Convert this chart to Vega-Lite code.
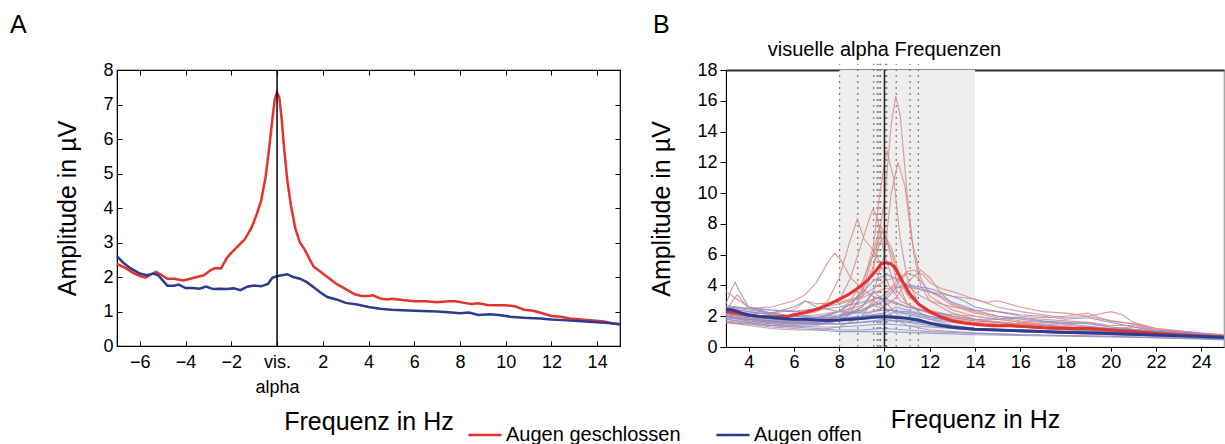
{
  "$schema": "https://vega.github.io/schema/vega-lite/v6.json",
  "padding": {"left": 9, "top": 12, "right": 0, "bottom": 0},
  "spacing": 23,
  "config": {
    "font": "Liberation Sans",
    "axis": {"grid": false, "labelColor": "#000", "titleColor": "#000", "domainColor": "#000", "tickColor": "#000", "labelFontSize": 18, "titleFontSize": 25, "titleFontWeight": "normal", "labelFont": "Liberation Sans", "titleFont": "Liberation Sans", "labelFlush": false, "labelOverlap": false},
    "title": {"fontWeight": "normal", "fontSize": 25, "anchor": "start", "frame": "group", "baseline": "alphabetic", "color": "#000"}
  },
  "datasets": {
    "meanA": [
      {"f": -7.0, "a": 2.38, "cond": "Augen geschlossen"}, {"f": -6.6, "a": 2.25, "cond": "Augen geschlossen"}, {"f": -6.3, "a": 2.12, "cond": "Augen geschlossen"}, {"f": -6.0, "a": 2.03, "cond": "Augen geschlossen"}, {"f": -5.75, "a": 1.98, "cond": "Augen geschlossen"}, {"f": -5.5, "a": 2.08, "cond": "Augen geschlossen"}, {"f": -5.3, "a": 2.15, "cond": "Augen geschlossen"}, {"f": -5.1, "a": 2.08, "cond": "Augen geschlossen"}, {"f": -4.8, "a": 1.95, "cond": "Augen geschlossen"}, {"f": -4.5, "a": 1.95, "cond": "Augen geschlossen"}, {"f": -4.1, "a": 1.9, "cond": "Augen geschlossen"}, {"f": -3.8, "a": 1.95, "cond": "Augen geschlossen"}, {"f": -3.5, "a": 2.0, "cond": "Augen geschlossen"}, {"f": -3.2, "a": 2.05, "cond": "Augen geschlossen"}, {"f": -2.9, "a": 2.2, "cond": "Augen geschlossen"}, {"f": -2.7, "a": 2.26, "cond": "Augen geschlossen"}, {"f": -2.45, "a": 2.25, "cond": "Augen geschlossen"}, {"f": -2.2, "a": 2.55, "cond": "Augen geschlossen"}, {"f": -2.0, "a": 2.7, "cond": "Augen geschlossen"}, {"f": -1.7, "a": 2.9, "cond": "Augen geschlossen"}, {"f": -1.4, "a": 3.1, "cond": "Augen geschlossen"}, {"f": -1.1, "a": 3.45, "cond": "Augen geschlossen"}, {"f": -0.9, "a": 3.8, "cond": "Augen geschlossen"}, {"f": -0.7, "a": 4.2, "cond": "Augen geschlossen"}, {"f": -0.5, "a": 4.9, "cond": "Augen geschlossen"}, {"f": -0.35, "a": 5.7, "cond": "Augen geschlossen"}, {"f": -0.2, "a": 6.6, "cond": "Augen geschlossen"}, {"f": -0.1, "a": 7.15, "cond": "Augen geschlossen"}, {"f": 0.0, "a": 7.35, "cond": "Augen geschlossen"}, {"f": 0.1, "a": 7.2, "cond": "Augen geschlossen"}, {"f": 0.2, "a": 6.6, "cond": "Augen geschlossen"}, {"f": 0.3, "a": 5.8, "cond": "Augen geschlossen"}, {"f": 0.45, "a": 4.8, "cond": "Augen geschlossen"}, {"f": 0.6, "a": 4.1, "cond": "Augen geschlossen"}, {"f": 0.8, "a": 3.4, "cond": "Augen geschlossen"}, {"f": 1.0, "a": 3.0, "cond": "Augen geschlossen"}, {"f": 1.2, "a": 2.8, "cond": "Augen geschlossen"}, {"f": 1.4, "a": 2.55, "cond": "Augen geschlossen"}, {"f": 1.6, "a": 2.3, "cond": "Augen geschlossen"}, {"f": 1.8, "a": 2.2, "cond": "Augen geschlossen"}, {"f": 2.0, "a": 2.1, "cond": "Augen geschlossen"}, {"f": 2.3, "a": 1.95, "cond": "Augen geschlossen"}, {"f": 2.6, "a": 1.8, "cond": "Augen geschlossen"}, {"f": 3.0, "a": 1.65, "cond": "Augen geschlossen"}, {"f": 3.4, "a": 1.5, "cond": "Augen geschlossen"}, {"f": 3.7, "a": 1.45, "cond": "Augen geschlossen"}, {"f": 4.0, "a": 1.45, "cond": "Augen geschlossen"}, {"f": 4.2, "a": 1.47, "cond": "Augen geschlossen"}, {"f": 4.5, "a": 1.38, "cond": "Augen geschlossen"}, {"f": 4.8, "a": 1.35, "cond": "Augen geschlossen"}, {"f": 5.0, "a": 1.37, "cond": "Augen geschlossen"}, {"f": 5.5, "a": 1.33, "cond": "Augen geschlossen"}, {"f": 6.0, "a": 1.3, "cond": "Augen geschlossen"}, {"f": 6.5, "a": 1.3, "cond": "Augen geschlossen"}, {"f": 7.0, "a": 1.27, "cond": "Augen geschlossen"}, {"f": 7.5, "a": 1.3, "cond": "Augen geschlossen"}, {"f": 7.8, "a": 1.3, "cond": "Augen geschlossen"}, {"f": 8.2, "a": 1.25, "cond": "Augen geschlossen"}, {"f": 8.5, "a": 1.22, "cond": "Augen geschlossen"}, {"f": 8.8, "a": 1.24, "cond": "Augen geschlossen"}, {"f": 9.2, "a": 1.19, "cond": "Augen geschlossen"}, {"f": 9.6, "a": 1.18, "cond": "Augen geschlossen"}, {"f": 10.0, "a": 1.18, "cond": "Augen geschlossen"}, {"f": 10.4, "a": 1.15, "cond": "Augen geschlossen"}, {"f": 10.8, "a": 1.05, "cond": "Augen geschlossen"}, {"f": 11.2, "a": 1.02, "cond": "Augen geschlossen"}, {"f": 11.6, "a": 0.95, "cond": "Augen geschlossen"}, {"f": 12.0, "a": 0.87, "cond": "Augen geschlossen"}, {"f": 12.4, "a": 0.85, "cond": "Augen geschlossen"}, {"f": 12.8, "a": 0.8, "cond": "Augen geschlossen"}, {"f": 13.3, "a": 0.77, "cond": "Augen geschlossen"}, {"f": 13.8, "a": 0.74, "cond": "Augen geschlossen"}, {"f": 14.3, "a": 0.71, "cond": "Augen geschlossen"}, {"f": 14.7, "a": 0.65, "cond": "Augen geschlossen"}, {"f": 15.0, "a": 0.63, "cond": "Augen geschlossen"},
      {"f": -7.0, "a": 2.6, "cond": "Augen offen"}, {"f": -6.7, "a": 2.4, "cond": "Augen offen"}, {"f": -6.4, "a": 2.25, "cond": "Augen offen"}, {"f": -6.0, "a": 2.1, "cond": "Augen offen"}, {"f": -5.7, "a": 2.05, "cond": "Augen offen"}, {"f": -5.4, "a": 2.1, "cond": "Augen offen"}, {"f": -5.2, "a": 2.05, "cond": "Augen offen"}, {"f": -5.0, "a": 1.9, "cond": "Augen offen"}, {"f": -4.8, "a": 1.75, "cond": "Augen offen"}, {"f": -4.5, "a": 1.75, "cond": "Augen offen"}, {"f": -4.3, "a": 1.78, "cond": "Augen offen"}, {"f": -4.0, "a": 1.68, "cond": "Augen offen"}, {"f": -3.7, "a": 1.68, "cond": "Augen offen"}, {"f": -3.4, "a": 1.66, "cond": "Augen offen"}, {"f": -3.1, "a": 1.72, "cond": "Augen offen"}, {"f": -2.8, "a": 1.65, "cond": "Augen offen"}, {"f": -2.5, "a": 1.66, "cond": "Augen offen"}, {"f": -2.2, "a": 1.65, "cond": "Augen offen"}, {"f": -1.9, "a": 1.67, "cond": "Augen offen"}, {"f": -1.6, "a": 1.62, "cond": "Augen offen"}, {"f": -1.3, "a": 1.72, "cond": "Augen offen"}, {"f": -1.0, "a": 1.75, "cond": "Augen offen"}, {"f": -0.7, "a": 1.73, "cond": "Augen offen"}, {"f": -0.4, "a": 1.8, "cond": "Augen offen"}, {"f": -0.2, "a": 1.98, "cond": "Augen offen"}, {"f": 0.0, "a": 2.02, "cond": "Augen offen"}, {"f": 0.2, "a": 2.05, "cond": "Augen offen"}, {"f": 0.45, "a": 2.08, "cond": "Augen offen"}, {"f": 0.7, "a": 2.0, "cond": "Augen offen"}, {"f": 1.0, "a": 1.95, "cond": "Augen offen"}, {"f": 1.3, "a": 1.85, "cond": "Augen offen"}, {"f": 1.6, "a": 1.7, "cond": "Augen offen"}, {"f": 1.9, "a": 1.55, "cond": "Augen offen"}, {"f": 2.2, "a": 1.42, "cond": "Augen offen"}, {"f": 2.6, "a": 1.35, "cond": "Augen offen"}, {"f": 3.0, "a": 1.25, "cond": "Augen offen"}, {"f": 3.5, "a": 1.2, "cond": "Augen offen"}, {"f": 4.0, "a": 1.13, "cond": "Augen offen"}, {"f": 4.5, "a": 1.08, "cond": "Augen offen"}, {"f": 5.0, "a": 1.05, "cond": "Augen offen"}, {"f": 6.0, "a": 1.02, "cond": "Augen offen"}, {"f": 7.0, "a": 1.0, "cond": "Augen offen"}, {"f": 7.5, "a": 0.98, "cond": "Augen offen"}, {"f": 8.0, "a": 0.95, "cond": "Augen offen"}, {"f": 8.4, "a": 0.97, "cond": "Augen offen"}, {"f": 8.8, "a": 0.9, "cond": "Augen offen"}, {"f": 9.3, "a": 0.92, "cond": "Augen offen"}, {"f": 9.7, "a": 0.9, "cond": "Augen offen"}, {"f": 10.2, "a": 0.85, "cond": "Augen offen"}, {"f": 10.8, "a": 0.82, "cond": "Augen offen"}, {"f": 11.5, "a": 0.8, "cond": "Augen offen"}, {"f": 12.0, "a": 0.77, "cond": "Augen offen"}, {"f": 12.5, "a": 0.75, "cond": "Augen offen"}, {"f": 13.0, "a": 0.73, "cond": "Augen offen"}, {"f": 13.5, "a": 0.71, "cond": "Augen offen"}, {"f": 14.0, "a": 0.69, "cond": "Augen offen"}, {"f": 14.5, "a": 0.67, "cond": "Augen offen"}, {"f": 15.0, "a": 0.63, "cond": "Augen offen"}
    ],
    "meanB": [
      {"f": 3.0, "a": 2.3, "cond": "Augen geschlossen"}, {"f": 3.5, "a": 2.2, "cond": "Augen geschlossen"}, {"f": 3.9, "a": 2.08, "cond": "Augen geschlossen"}, {"f": 4.4, "a": 2.0, "cond": "Augen geschlossen"}, {"f": 4.8, "a": 1.97, "cond": "Augen geschlossen"}, {"f": 5.3, "a": 1.97, "cond": "Augen geschlossen"}, {"f": 5.7, "a": 1.98, "cond": "Augen geschlossen"}, {"f": 6.0, "a": 2.1, "cond": "Augen geschlossen"}, {"f": 6.5, "a": 2.25, "cond": "Augen geschlossen"}, {"f": 7.0, "a": 2.45, "cond": "Augen geschlossen"}, {"f": 7.5, "a": 2.75, "cond": "Augen geschlossen"}, {"f": 8.0, "a": 3.1, "cond": "Augen geschlossen"}, {"f": 8.4, "a": 3.4, "cond": "Augen geschlossen"}, {"f": 8.9, "a": 3.9, "cond": "Augen geschlossen"}, {"f": 9.3, "a": 4.4, "cond": "Augen geschlossen"}, {"f": 9.65, "a": 5.0, "cond": "Augen geschlossen"}, {"f": 9.85, "a": 5.4, "cond": "Augen geschlossen"}, {"f": 10.05, "a": 5.48, "cond": "Augen geschlossen"}, {"f": 10.25, "a": 5.43, "cond": "Augen geschlossen"}, {"f": 10.45, "a": 5.2, "cond": "Augen geschlossen"}, {"f": 10.75, "a": 4.4, "cond": "Augen geschlossen"}, {"f": 11.1, "a": 3.5, "cond": "Augen geschlossen"}, {"f": 11.5, "a": 2.8, "cond": "Augen geschlossen"}, {"f": 12.0, "a": 2.3, "cond": "Augen geschlossen"}, {"f": 12.5, "a": 1.95, "cond": "Augen geschlossen"}, {"f": 13.0, "a": 1.7, "cond": "Augen geschlossen"}, {"f": 13.6, "a": 1.55, "cond": "Augen geschlossen"}, {"f": 14.2, "a": 1.45, "cond": "Augen geschlossen"}, {"f": 14.8, "a": 1.38, "cond": "Augen geschlossen"}, {"f": 15.5, "a": 1.4, "cond": "Augen geschlossen"}, {"f": 16.0, "a": 1.35, "cond": "Augen geschlossen"}, {"f": 17.0, "a": 1.25, "cond": "Augen geschlossen"}, {"f": 18.0, "a": 1.2, "cond": "Augen geschlossen"}, {"f": 19.0, "a": 1.2, "cond": "Augen geschlossen"}, {"f": 20.0, "a": 1.1, "cond": "Augen geschlossen"}, {"f": 21.0, "a": 1.0, "cond": "Augen geschlossen"}, {"f": 22.0, "a": 0.9, "cond": "Augen geschlossen"}, {"f": 23.0, "a": 0.8, "cond": "Augen geschlossen"}, {"f": 24.0, "a": 0.72, "cond": "Augen geschlossen"}, {"f": 25.0, "a": 0.65, "cond": "Augen geschlossen"},
      {"f": 3.0, "a": 2.45, "cond": "Augen offen"}, {"f": 3.3, "a": 2.4, "cond": "Augen offen"}, {"f": 3.7, "a": 2.2, "cond": "Augen offen"}, {"f": 4.0, "a": 2.08, "cond": "Augen offen"}, {"f": 4.5, "a": 1.98, "cond": "Augen offen"}, {"f": 5.0, "a": 1.92, "cond": "Augen offen"}, {"f": 5.5, "a": 1.85, "cond": "Augen offen"}, {"f": 6.0, "a": 1.8, "cond": "Augen offen"}, {"f": 6.5, "a": 1.8, "cond": "Augen offen"}, {"f": 7.0, "a": 1.75, "cond": "Augen offen"}, {"f": 7.5, "a": 1.72, "cond": "Augen offen"}, {"f": 8.0, "a": 1.75, "cond": "Augen offen"}, {"f": 8.5, "a": 1.8, "cond": "Augen offen"}, {"f": 9.0, "a": 1.85, "cond": "Augen offen"}, {"f": 9.5, "a": 1.93, "cond": "Augen offen"}, {"f": 10.0, "a": 1.97, "cond": "Augen offen"}, {"f": 10.5, "a": 1.92, "cond": "Augen offen"}, {"f": 11.0, "a": 1.87, "cond": "Augen offen"}, {"f": 11.5, "a": 1.75, "cond": "Augen offen"}, {"f": 12.0, "a": 1.55, "cond": "Augen offen"}, {"f": 12.5, "a": 1.4, "cond": "Augen offen"}, {"f": 13.0, "a": 1.28, "cond": "Augen offen"}, {"f": 14.0, "a": 1.15, "cond": "Augen offen"}, {"f": 15.0, "a": 1.1, "cond": "Augen offen"}, {"f": 16.0, "a": 1.05, "cond": "Augen offen"}, {"f": 17.0, "a": 1.0, "cond": "Augen offen"}, {"f": 18.0, "a": 0.95, "cond": "Augen offen"}, {"f": 19.0, "a": 0.92, "cond": "Augen offen"}, {"f": 20.0, "a": 0.87, "cond": "Augen offen"}, {"f": 21.0, "a": 0.83, "cond": "Augen offen"}, {"f": 22.0, "a": 0.78, "cond": "Augen offen"}, {"f": 23.0, "a": 0.73, "cond": "Augen offen"}, {"f": 24.0, "a": 0.68, "cond": "Augen offen"}, {"f": 25.0, "a": 0.62, "cond": "Augen offen"}
    ],
    "indiv": [
      {"id": "r1", "c": "g", "f": 3, "a": 2.2}, {"id": "r1", "c": "g", "f": 4, "a": 1.9}, {"id": "r1", "c": "g", "f": 5, "a": 1.7}, {"id": "r1", "c": "g", "f": 6, "a": 1.6}, {"id": "r1", "c": "g", "f": 7, "a": 1.7}, {"id": "r1", "c": "g", "f": 8, "a": 2.0}, {"id": "r1", "c": "g", "f": 8.5, "a": 2.4}, {"id": "r1", "c": "g", "f": 9, "a": 3.2}, {"id": "r1", "c": "g", "f": 9.5, "a": 5.0}, {"id": "r1", "c": "g", "f": 10, "a": 9.5}, {"id": "r1", "c": "g", "f": 10.3, "a": 14.5}, {"id": "r1", "c": "g", "f": 10.5, "a": 16.3}, {"id": "r1", "c": "g", "f": 10.7, "a": 15.0}, {"id": "r1", "c": "g", "f": 11, "a": 10.0}, {"id": "r1", "c": "g", "f": 11.3, "a": 6.0}, {"id": "r1", "c": "g", "f": 11.6, "a": 4.0}, {"id": "r1", "c": "g", "f": 12, "a": 3.0}, {"id": "r1", "c": "g", "f": 13, "a": 2.2}, {"id": "r1", "c": "g", "f": 14, "a": 1.8}, {"id": "r1", "c": "g", "f": 15, "a": 1.6}, {"id": "r1", "c": "g", "f": 16, "a": 1.4}, {"id": "r1", "c": "g", "f": 18, "a": 1.2}, {"id": "r1", "c": "g", "f": 20, "a": 1.0}, {"id": "r1", "c": "g", "f": 22, "a": 0.9}, {"id": "r1", "c": "g", "f": 24, "a": 0.7}, {"id": "r1", "c": "g", "f": 25, "a": 0.6},
      {"id": "r2", "c": "g", "f": 3, "a": 1.9}, {"id": "r2", "c": "g", "f": 4, "a": 1.7}, {"id": "r2", "c": "g", "f": 5, "a": 1.5}, {"id": "r2", "c": "g", "f": 6, "a": 1.5}, {"id": "r2", "c": "g", "f": 7, "a": 1.6}, {"id": "r2", "c": "g", "f": 8, "a": 2.0}, {"id": "r2", "c": "g", "f": 8.5, "a": 2.6}, {"id": "r2", "c": "g", "f": 9, "a": 3.8}, {"id": "r2", "c": "g", "f": 9.5, "a": 6.5}, {"id": "r2", "c": "g", "f": 9.8, "a": 10.0}, {"id": "r2", "c": "g", "f": 10.1, "a": 12.8}, {"id": "r2", "c": "g", "f": 10.4, "a": 11.0}, {"id": "r2", "c": "g", "f": 10.7, "a": 7.0}, {"id": "r2", "c": "g", "f": 11, "a": 4.5}, {"id": "r2", "c": "g", "f": 11.5, "a": 2.8}, {"id": "r2", "c": "g", "f": 12, "a": 2.2}, {"id": "r2", "c": "g", "f": 13, "a": 1.7}, {"id": "r2", "c": "g", "f": 14, "a": 1.5}, {"id": "r2", "c": "g", "f": 16, "a": 1.3}, {"id": "r2", "c": "g", "f": 18, "a": 1.1}, {"id": "r2", "c": "g", "f": 20, "a": 1.0}, {"id": "r2", "c": "g", "f": 22, "a": 0.9}, {"id": "r2", "c": "g", "f": 24, "a": 0.75}, {"id": "r2", "c": "g", "f": 25, "a": 0.7},
      {"id": "r3", "c": "g", "f": 3, "a": 2.0}, {"id": "r3", "c": "g", "f": 4, "a": 1.8}, {"id": "r3", "c": "g", "f": 5, "a": 1.6}, {"id": "r3", "c": "g", "f": 6, "a": 1.5}, {"id": "r3", "c": "g", "f": 7, "a": 1.6}, {"id": "r3", "c": "g", "f": 8, "a": 1.9}, {"id": "r3", "c": "g", "f": 9, "a": 2.6}, {"id": "r3", "c": "g", "f": 9.5, "a": 3.5}, {"id": "r3", "c": "g", "f": 10, "a": 6.0}, {"id": "r3", "c": "g", "f": 10.3, "a": 10.0}, {"id": "r3", "c": "g", "f": 10.6, "a": 12.0}, {"id": "r3", "c": "g", "f": 10.9, "a": 10.5}, {"id": "r3", "c": "g", "f": 11.2, "a": 7.0}, {"id": "r3", "c": "g", "f": 11.6, "a": 4.5}, {"id": "r3", "c": "g", "f": 12, "a": 3.3}, {"id": "r3", "c": "g", "f": 13, "a": 2.4}, {"id": "r3", "c": "g", "f": 14, "a": 2.0}, {"id": "r3", "c": "g", "f": 15, "a": 1.8}, {"id": "r3", "c": "g", "f": 16, "a": 1.6}, {"id": "r3", "c": "g", "f": 18, "a": 1.3}, {"id": "r3", "c": "g", "f": 20, "a": 1.1}, {"id": "r3", "c": "g", "f": 22, "a": 0.9}, {"id": "r3", "c": "g", "f": 24, "a": 0.8}, {"id": "r3", "c": "g", "f": 25, "a": 0.7},
      {"id": "r4", "c": "g", "f": 3, "a": 2.5}, {"id": "r4", "c": "g", "f": 4, "a": 2.3}, {"id": "r4", "c": "g", "f": 5, "a": 2.1}, {"id": "r4", "c": "g", "f": 6, "a": 2.0}, {"id": "r4", "c": "g", "f": 7, "a": 2.3}, {"id": "r4", "c": "g", "f": 8, "a": 3.0}, {"id": "r4", "c": "g", "f": 8.5, "a": 4.5}, {"id": "r4", "c": "g", "f": 9, "a": 6.8}, {"id": "r4", "c": "g", "f": 9.3, "a": 8.2}, {"id": "r4", "c": "g", "f": 9.5, "a": 9.0}, {"id": "r4", "c": "g", "f": 9.7, "a": 8.3}, {"id": "r4", "c": "g", "f": 10, "a": 6.0}, {"id": "r4", "c": "g", "f": 10.5, "a": 3.8}, {"id": "r4", "c": "g", "f": 11, "a": 2.8}, {"id": "r4", "c": "g", "f": 12, "a": 2.2}, {"id": "r4", "c": "g", "f": 13, "a": 1.8}, {"id": "r4", "c": "g", "f": 14, "a": 1.6}, {"id": "r4", "c": "g", "f": 16, "a": 1.4}, {"id": "r4", "c": "g", "f": 18, "a": 1.2}, {"id": "r4", "c": "g", "f": 20, "a": 1.0}, {"id": "r4", "c": "g", "f": 22, "a": 0.85}, {"id": "r4", "c": "g", "f": 24, "a": 0.7}, {"id": "r4", "c": "g", "f": 25, "a": 0.65},
      {"id": "r5", "c": "g", "f": 3, "a": 2.2}, {"id": "r5", "c": "g", "f": 4, "a": 2.0}, {"id": "r5", "c": "g", "f": 5, "a": 1.9}, {"id": "r5", "c": "g", "f": 6, "a": 2.0}, {"id": "r5", "c": "g", "f": 7, "a": 2.4}, {"id": "r5", "c": "g", "f": 7.5, "a": 3.0}, {"id": "r5", "c": "g", "f": 8, "a": 4.5}, {"id": "r5", "c": "g", "f": 8.5, "a": 7.0}, {"id": "r5", "c": "g", "f": 8.8, "a": 8.3}, {"id": "r5", "c": "g", "f": 9.1, "a": 7.0}, {"id": "r5", "c": "g", "f": 9.4, "a": 6.5}, {"id": "r5", "c": "g", "f": 9.8, "a": 5.5}, {"id": "r5", "c": "g", "f": 10.2, "a": 4.0}, {"id": "r5", "c": "g", "f": 10.7, "a": 3.0}, {"id": "r5", "c": "g", "f": 11.5, "a": 2.4}, {"id": "r5", "c": "g", "f": 12.5, "a": 2.0}, {"id": "r5", "c": "g", "f": 14, "a": 1.7}, {"id": "r5", "c": "g", "f": 16, "a": 1.5}, {"id": "r5", "c": "g", "f": 18, "a": 1.3}, {"id": "r5", "c": "g", "f": 20, "a": 1.1}, {"id": "r5", "c": "g", "f": 22, "a": 0.9}, {"id": "r5", "c": "g", "f": 24, "a": 0.75}, {"id": "r5", "c": "g", "f": 25, "a": 0.7},
      {"id": "r6", "c": "g", "f": 3, "a": 2.6}, {"id": "r6", "c": "g", "f": 4, "a": 2.5}, {"id": "r6", "c": "g", "f": 5, "a": 2.6}, {"id": "r6", "c": "g", "f": 6, "a": 3.0}, {"id": "r6", "c": "g", "f": 6.5, "a": 3.4}, {"id": "r6", "c": "g", "f": 7, "a": 4.2}, {"id": "r6", "c": "g", "f": 7.5, "a": 5.5}, {"id": "r6", "c": "g", "f": 7.8, "a": 6.1}, {"id": "r6", "c": "g", "f": 8.1, "a": 5.6}, {"id": "r6", "c": "g", "f": 8.5, "a": 4.5}, {"id": "r6", "c": "g", "f": 9, "a": 3.8}, {"id": "r6", "c": "g", "f": 9.5, "a": 3.3}, {"id": "r6", "c": "g", "f": 10, "a": 3.0}, {"id": "r6", "c": "g", "f": 11, "a": 2.6}, {"id": "r6", "c": "g", "f": 12, "a": 2.3}, {"id": "r6", "c": "g", "f": 13, "a": 2.1}, {"id": "r6", "c": "g", "f": 14, "a": 2.0}, {"id": "r6", "c": "g", "f": 15, "a": 1.8}, {"id": "r6", "c": "g", "f": 16, "a": 1.6}, {"id": "r6", "c": "g", "f": 18, "a": 1.4}, {"id": "r6", "c": "g", "f": 20, "a": 1.2}, {"id": "r6", "c": "g", "f": 22, "a": 1.0}, {"id": "r6", "c": "g", "f": 24, "a": 0.8}, {"id": "r6", "c": "g", "f": 25, "a": 0.75},
      {"id": "r7", "c": "g", "f": 3, "a": 1.8}, {"id": "r7", "c": "g", "f": 4, "a": 1.6}, {"id": "r7", "c": "g", "f": 5, "a": 1.4}, {"id": "r7", "c": "g", "f": 6, "a": 1.3}, {"id": "r7", "c": "g", "f": 7, "a": 1.4}, {"id": "r7", "c": "g", "f": 8, "a": 1.7}, {"id": "r7", "c": "g", "f": 8.5, "a": 2.2}, {"id": "r7", "c": "g", "f": 9, "a": 3.5}, {"id": "r7", "c": "g", "f": 9.4, "a": 5.5}, {"id": "r7", "c": "g", "f": 9.8, "a": 7.9}, {"id": "r7", "c": "g", "f": 10.1, "a": 7.0}, {"id": "r7", "c": "g", "f": 10.5, "a": 4.5}, {"id": "r7", "c": "g", "f": 11, "a": 2.8}, {"id": "r7", "c": "g", "f": 12, "a": 1.8}, {"id": "r7", "c": "g", "f": 13, "a": 1.4}, {"id": "r7", "c": "g", "f": 14, "a": 1.2}, {"id": "r7", "c": "g", "f": 16, "a": 1.0}, {"id": "r7", "c": "g", "f": 18, "a": 0.9}, {"id": "r7", "c": "g", "f": 20, "a": 0.8}, {"id": "r7", "c": "g", "f": 22, "a": 0.7}, {"id": "r7", "c": "g", "f": 24, "a": 0.6}, {"id": "r7", "c": "g", "f": 25, "a": 0.55},
      {"id": "r8", "c": "g", "f": 3, "a": 2.0}, {"id": "r8", "c": "g", "f": 4, "a": 1.8}, {"id": "r8", "c": "g", "f": 5, "a": 1.6}, {"id": "r8", "c": "g", "f": 6, "a": 1.6}, {"id": "r8", "c": "g", "f": 7, "a": 1.8}, {"id": "r8", "c": "g", "f": 8, "a": 2.3}, {"id": "r8", "c": "g", "f": 8.5, "a": 3.0}, {"id": "r8", "c": "g", "f": 9, "a": 4.2}, {"id": "r8", "c": "g", "f": 9.5, "a": 6.0}, {"id": "r8", "c": "g", "f": 9.9, "a": 7.5}, {"id": "r8", "c": "g", "f": 10.3, "a": 6.5}, {"id": "r8", "c": "g", "f": 10.7, "a": 4.5}, {"id": "r8", "c": "g", "f": 11, "a": 3.5}, {"id": "r8", "c": "g", "f": 11.5, "a": 2.8}, {"id": "r8", "c": "g", "f": 12, "a": 2.4}, {"id": "r8", "c": "g", "f": 13, "a": 2.0}, {"id": "r8", "c": "g", "f": 14, "a": 1.8}, {"id": "r8", "c": "g", "f": 16, "a": 1.5}, {"id": "r8", "c": "g", "f": 18, "a": 1.3}, {"id": "r8", "c": "g", "f": 20, "a": 1.1}, {"id": "r8", "c": "g", "f": 22, "a": 0.95}, {"id": "r8", "c": "g", "f": 24, "a": 0.8}, {"id": "r8", "c": "g", "f": 25, "a": 0.7},
      {"id": "r9", "c": "g", "f": 3, "a": 2.3}, {"id": "r9", "c": "g", "f": 4, "a": 2.1}, {"id": "r9", "c": "g", "f": 5, "a": 2.0}, {"id": "r9", "c": "g", "f": 6, "a": 2.0}, {"id": "r9", "c": "g", "f": 7, "a": 2.1}, {"id": "r9", "c": "g", "f": 8, "a": 2.3}, {"id": "r9", "c": "g", "f": 9, "a": 2.7}, {"id": "r9", "c": "g", "f": 10, "a": 3.4}, {"id": "r9", "c": "g", "f": 10.5, "a": 4.2}, {"id": "r9", "c": "g", "f": 11, "a": 4.9}, {"id": "r9", "c": "g", "f": 11.3, "a": 5.0}, {"id": "r9", "c": "g", "f": 11.7, "a": 4.7}, {"id": "r9", "c": "g", "f": 12, "a": 4.2}, {"id": "r9", "c": "g", "f": 12.5, "a": 3.8}, {"id": "r9", "c": "g", "f": 13, "a": 3.6}, {"id": "r9", "c": "g", "f": 14, "a": 3.1}, {"id": "r9", "c": "g", "f": 15, "a": 2.6}, {"id": "r9", "c": "g", "f": 16, "a": 2.3}, {"id": "r9", "c": "g", "f": 17, "a": 2.1}, {"id": "r9", "c": "g", "f": 18, "a": 1.9}, {"id": "r9", "c": "g", "f": 19, "a": 2.0}, {"id": "r9", "c": "g", "f": 20, "a": 1.7}, {"id": "r9", "c": "g", "f": 21, "a": 1.5}, {"id": "r9", "c": "g", "f": 22, "a": 1.2}, {"id": "r9", "c": "g", "f": 24, "a": 0.9}, {"id": "r9", "c": "g", "f": 25, "a": 0.8},
      {"id": "r10", "c": "g", "f": 3, "a": 1.7}, {"id": "r10", "c": "g", "f": 4, "a": 1.5}, {"id": "r10", "c": "g", "f": 5, "a": 1.4}, {"id": "r10", "c": "g", "f": 6, "a": 1.4}, {"id": "r10", "c": "g", "f": 7, "a": 1.5}, {"id": "r10", "c": "g", "f": 8, "a": 1.7}, {"id": "r10", "c": "g", "f": 9, "a": 2.0}, {"id": "r10", "c": "g", "f": 10, "a": 2.6}, {"id": "r10", "c": "g", "f": 10.5, "a": 3.2}, {"id": "r10", "c": "g", "f": 11, "a": 4.2}, {"id": "r10", "c": "g", "f": 11.6, "a": 5.0}, {"id": "r10", "c": "g", "f": 12, "a": 4.5}, {"id": "r10", "c": "g", "f": 12.5, "a": 3.5}, {"id": "r10", "c": "g", "f": 13, "a": 2.8}, {"id": "r10", "c": "g", "f": 14, "a": 2.3}, {"id": "r10", "c": "g", "f": 15, "a": 2.0}, {"id": "r10", "c": "g", "f": 16, "a": 1.9}, {"id": "r10", "c": "g", "f": 17, "a": 1.8}, {"id": "r10", "c": "g", "f": 18, "a": 1.7}, {"id": "r10", "c": "g", "f": 19, "a": 1.6}, {"id": "r10", "c": "g", "f": 20, "a": 1.3}, {"id": "r10", "c": "g", "f": 22, "a": 1.0}, {"id": "r10", "c": "g", "f": 24, "a": 0.8}, {"id": "r10", "c": "g", "f": 25, "a": 0.7},
      {"id": "r11", "c": "g", "f": 3, "a": 3.6}, {"id": "r11", "c": "g", "f": 3.4, "a": 3.2}, {"id": "r11", "c": "g", "f": 4, "a": 2.6}, {"id": "r11", "c": "g", "f": 5, "a": 2.4}, {"id": "r11", "c": "g", "f": 6, "a": 2.3}, {"id": "r11", "c": "g", "f": 7, "a": 2.5}, {"id": "r11", "c": "g", "f": 8, "a": 2.8}, {"id": "r11", "c": "g", "f": 9, "a": 3.2}, {"id": "r11", "c": "g", "f": 10, "a": 3.8}, {"id": "r11", "c": "g", "f": 11, "a": 3.9}, {"id": "r11", "c": "g", "f": 12, "a": 3.6}, {"id": "r11", "c": "g", "f": 13, "a": 3.3}, {"id": "r11", "c": "g", "f": 14, "a": 3.1}, {"id": "r11", "c": "g", "f": 14.5, "a": 2.9}, {"id": "r11", "c": "g", "f": 15, "a": 3.0}, {"id": "r11", "c": "g", "f": 16, "a": 2.6}, {"id": "r11", "c": "g", "f": 17, "a": 2.3}, {"id": "r11", "c": "g", "f": 18, "a": 2.2}, {"id": "r11", "c": "g", "f": 19, "a": 2.0}, {"id": "r11", "c": "g", "f": 20, "a": 2.3}, {"id": "r11", "c": "g", "f": 20.5, "a": 2.1}, {"id": "r11", "c": "g", "f": 21, "a": 1.6}, {"id": "r11", "c": "g", "f": 22, "a": 1.2}, {"id": "r11", "c": "g", "f": 24, "a": 0.9}, {"id": "r11", "c": "g", "f": 25, "a": 0.8},
      {"id": "r12", "c": "g", "f": 3, "a": 2.4}, {"id": "r12", "c": "g", "f": 3.5, "a": 3.4}, {"id": "r12", "c": "g", "f": 4, "a": 2.5}, {"id": "r12", "c": "g", "f": 5, "a": 2.2}, {"id": "r12", "c": "g", "f": 6, "a": 2.4}, {"id": "r12", "c": "g", "f": 6.5, "a": 3.0}, {"id": "r12", "c": "g", "f": 7, "a": 2.8}, {"id": "r12", "c": "g", "f": 8, "a": 2.9}, {"id": "r12", "c": "g", "f": 9, "a": 3.3}, {"id": "r12", "c": "g", "f": 9.5, "a": 3.8}, {"id": "r12", "c": "g", "f": 10, "a": 4.3}, {"id": "r12", "c": "g", "f": 10.5, "a": 4.5}, {"id": "r12", "c": "g", "f": 11, "a": 4.0}, {"id": "r12", "c": "g", "f": 11.5, "a": 3.4}, {"id": "r12", "c": "g", "f": 12, "a": 3.0}, {"id": "r12", "c": "g", "f": 13, "a": 2.6}, {"id": "r12", "c": "g", "f": 14, "a": 2.4}, {"id": "r12", "c": "g", "f": 15, "a": 2.3}, {"id": "r12", "c": "g", "f": 16, "a": 2.0}, {"id": "r12", "c": "g", "f": 17, "a": 1.9}, {"id": "r12", "c": "g", "f": 18, "a": 2.0}, {"id": "r12", "c": "g", "f": 19, "a": 2.2}, {"id": "r12", "c": "g", "f": 19.5, "a": 1.9}, {"id": "r12", "c": "g", "f": 20, "a": 1.7}, {"id": "r12", "c": "g", "f": 21, "a": 1.5}, {"id": "r12", "c": "g", "f": 22, "a": 1.1}, {"id": "r12", "c": "g", "f": 24, "a": 0.8}, {"id": "r12", "c": "g", "f": 25, "a": 0.7},
      {"id": "r13", "c": "g", "f": 3, "a": 1.6}, {"id": "r13", "c": "g", "f": 4, "a": 1.4}, {"id": "r13", "c": "g", "f": 5, "a": 1.2}, {"id": "r13", "c": "g", "f": 6, "a": 1.1}, {"id": "r13", "c": "g", "f": 7, "a": 1.1}, {"id": "r13", "c": "g", "f": 8, "a": 1.3}, {"id": "r13", "c": "g", "f": 9, "a": 2.0}, {"id": "r13", "c": "g", "f": 9.5, "a": 3.0}, {"id": "r13", "c": "g", "f": 10, "a": 2.6}, {"id": "r13", "c": "g", "f": 10.5, "a": 1.8}, {"id": "r13", "c": "g", "f": 11, "a": 1.4}, {"id": "r13", "c": "g", "f": 12, "a": 1.1}, {"id": "r13", "c": "g", "f": 14, "a": 0.9}, {"id": "r13", "c": "g", "f": 16, "a": 0.8}, {"id": "r13", "c": "g", "f": 18, "a": 0.75}, {"id": "r13", "c": "g", "f": 20, "a": 0.7}, {"id": "r13", "c": "g", "f": 22, "a": 0.6}, {"id": "r13", "c": "g", "f": 24, "a": 0.55}, {"id": "r13", "c": "g", "f": 25, "a": 0.5},
      {"id": "r14", "c": "g", "f": 3, "a": 2.1}, {"id": "r14", "c": "g", "f": 4, "a": 1.9}, {"id": "r14", "c": "g", "f": 5, "a": 1.8}, {"id": "r14", "c": "g", "f": 6, "a": 1.7}, {"id": "r14", "c": "g", "f": 7, "a": 1.9}, {"id": "r14", "c": "g", "f": 8, "a": 2.3}, {"id": "r14", "c": "g", "f": 8.5, "a": 2.8}, {"id": "r14", "c": "g", "f": 9, "a": 3.6}, {"id": "r14", "c": "g", "f": 9.5, "a": 5.2}, {"id": "r14", "c": "g", "f": 9.8, "a": 6.8}, {"id": "r14", "c": "g", "f": 10, "a": 7.2}, {"id": "r14", "c": "g", "f": 10.3, "a": 6.2}, {"id": "r14", "c": "g", "f": 10.6, "a": 4.6}, {"id": "r14", "c": "g", "f": 11, "a": 3.4}, {"id": "r14", "c": "g", "f": 11.5, "a": 2.7}, {"id": "r14", "c": "g", "f": 12, "a": 2.3}, {"id": "r14", "c": "g", "f": 13, "a": 1.9}, {"id": "r14", "c": "g", "f": 14, "a": 1.7}, {"id": "r14", "c": "g", "f": 16, "a": 1.5}, {"id": "r14", "c": "g", "f": 18, "a": 1.3}, {"id": "r14", "c": "g", "f": 20, "a": 1.2}, {"id": "r14", "c": "g", "f": 21, "a": 1.3}, {"id": "r14", "c": "g", "f": 22, "a": 1.0}, {"id": "r14", "c": "g", "f": 24, "a": 0.8}, {"id": "r14", "c": "g", "f": 25, "a": 0.7},
      {"id": "r15", "c": "g", "f": 3, "a": 2.0}, {"id": "r15", "c": "g", "f": 4, "a": 1.8}, {"id": "r15", "c": "g", "f": 5, "a": 1.7}, {"id": "r15", "c": "g", "f": 6, "a": 1.7}, {"id": "r15", "c": "g", "f": 7, "a": 1.8}, {"id": "r15", "c": "g", "f": 8, "a": 2.0}, {"id": "r15", "c": "g", "f": 9, "a": 2.4}, {"id": "r15", "c": "g", "f": 10, "a": 3.2}, {"id": "r15", "c": "g", "f": 10.5, "a": 4.0}, {"id": "r15", "c": "g", "f": 11, "a": 4.8}, {"id": "r15", "c": "g", "f": 11.4, "a": 4.6}, {"id": "r15", "c": "g", "f": 12, "a": 3.6}, {"id": "r15", "c": "g", "f": 12.5, "a": 3.2}, {"id": "r15", "c": "g", "f": 13, "a": 2.7}, {"id": "r15", "c": "g", "f": 14, "a": 2.2}, {"id": "r15", "c": "g", "f": 15, "a": 1.9}, {"id": "r15", "c": "g", "f": 16, "a": 1.7}, {"id": "r15", "c": "g", "f": 18, "a": 1.5}, {"id": "r15", "c": "g", "f": 19, "a": 1.6}, {"id": "r15", "c": "g", "f": 20, "a": 1.4}, {"id": "r15", "c": "g", "f": 21, "a": 1.4}, {"id": "r15", "c": "g", "f": 22, "a": 1.1}, {"id": "r15", "c": "g", "f": 24, "a": 0.85}, {"id": "r15", "c": "g", "f": 25, "a": 0.75},
      {"id": "b1", "c": "o", "f": 3, "a": 2.8}, {"id": "b1", "c": "o", "f": 3.2, "a": 3.6}, {"id": "b1", "c": "o", "f": 3.4, "a": 4.2}, {"id": "b1", "c": "o", "f": 3.6, "a": 3.6}, {"id": "b1", "c": "o", "f": 4, "a": 2.6}, {"id": "b1", "c": "o", "f": 5, "a": 2.2}, {"id": "b1", "c": "o", "f": 6, "a": 2.0}, {"id": "b1", "c": "o", "f": 7, "a": 1.9}, {"id": "b1", "c": "o", "f": 8, "a": 1.9}, {"id": "b1", "c": "o", "f": 9, "a": 2.0}, {"id": "b1", "c": "o", "f": 10, "a": 2.1}, {"id": "b1", "c": "o", "f": 11, "a": 1.9}, {"id": "b1", "c": "o", "f": 12, "a": 1.6}, {"id": "b1", "c": "o", "f": 13, "a": 1.4}, {"id": "b1", "c": "o", "f": 14, "a": 1.2}, {"id": "b1", "c": "o", "f": 16, "a": 1.1}, {"id": "b1", "c": "o", "f": 18, "a": 1.0}, {"id": "b1", "c": "o", "f": 20, "a": 0.9}, {"id": "b1", "c": "o", "f": 22, "a": 0.8}, {"id": "b1", "c": "o", "f": 24, "a": 0.7}, {"id": "b1", "c": "o", "f": 25, "a": 0.65},
      {"id": "b2", "c": "o", "f": 3, "a": 2.2}, {"id": "b2", "c": "o", "f": 4, "a": 2.0}, {"id": "b2", "c": "o", "f": 5, "a": 1.9}, {"id": "b2", "c": "o", "f": 6, "a": 1.8}, {"id": "b2", "c": "o", "f": 7, "a": 1.9}, {"id": "b2", "c": "o", "f": 8, "a": 2.3}, {"id": "b2", "c": "o", "f": 8.5, "a": 2.8}, {"id": "b2", "c": "o", "f": 9, "a": 3.5}, {"id": "b2", "c": "o", "f": 9.5, "a": 4.3}, {"id": "b2", "c": "o", "f": 10.1, "a": 4.7}, {"id": "b2", "c": "o", "f": 10.6, "a": 4.4}, {"id": "b2", "c": "o", "f": 11, "a": 4.0}, {"id": "b2", "c": "o", "f": 11.5, "a": 3.8}, {"id": "b2", "c": "o", "f": 12, "a": 3.6}, {"id": "b2", "c": "o", "f": 12.5, "a": 3.3}, {"id": "b2", "c": "o", "f": 13, "a": 2.9}, {"id": "b2", "c": "o", "f": 14, "a": 2.4}, {"id": "b2", "c": "o", "f": 15, "a": 2.0}, {"id": "b2", "c": "o", "f": 16, "a": 1.8}, {"id": "b2", "c": "o", "f": 18, "a": 1.5}, {"id": "b2", "c": "o", "f": 20, "a": 1.2}, {"id": "b2", "c": "o", "f": 22, "a": 1.0}, {"id": "b2", "c": "o", "f": 24, "a": 0.8}, {"id": "b2", "c": "o", "f": 25, "a": 0.7},
      {"id": "b3", "c": "o", "f": 3, "a": 2.5}, {"id": "b3", "c": "o", "f": 4, "a": 2.3}, {"id": "b3", "c": "o", "f": 5, "a": 2.1}, {"id": "b3", "c": "o", "f": 6, "a": 2.0}, {"id": "b3", "c": "o", "f": 7, "a": 2.0}, {"id": "b3", "c": "o", "f": 8, "a": 2.1}, {"id": "b3", "c": "o", "f": 9, "a": 2.4}, {"id": "b3", "c": "o", "f": 10, "a": 3.0}, {"id": "b3", "c": "o", "f": 10.5, "a": 3.8}, {"id": "b3", "c": "o", "f": 10.9, "a": 4.1}, {"id": "b3", "c": "o", "f": 11.5, "a": 3.9}, {"id": "b3", "c": "o", "f": 12, "a": 3.8}, {"id": "b3", "c": "o", "f": 13, "a": 3.3}, {"id": "b3", "c": "o", "f": 13.5, "a": 3.0}, {"id": "b3", "c": "o", "f": 14, "a": 2.6}, {"id": "b3", "c": "o", "f": 15, "a": 2.3}, {"id": "b3", "c": "o", "f": 16, "a": 2.1}, {"id": "b3", "c": "o", "f": 17, "a": 2.0}, {"id": "b3", "c": "o", "f": 18, "a": 1.8}, {"id": "b3", "c": "o", "f": 19, "a": 1.9}, {"id": "b3", "c": "o", "f": 20, "a": 1.6}, {"id": "b3", "c": "o", "f": 21, "a": 1.3}, {"id": "b3", "c": "o", "f": 22, "a": 1.1}, {"id": "b3", "c": "o", "f": 24, "a": 0.85}, {"id": "b3", "c": "o", "f": 25, "a": 0.75},
      {"id": "b4", "c": "o", "f": 3, "a": 2.0}, {"id": "b4", "c": "o", "f": 4, "a": 1.8}, {"id": "b4", "c": "o", "f": 5, "a": 1.6}, {"id": "b4", "c": "o", "f": 6, "a": 1.5}, {"id": "b4", "c": "o", "f": 7, "a": 1.5}, {"id": "b4", "c": "o", "f": 8, "a": 1.7}, {"id": "b4", "c": "o", "f": 9, "a": 2.6}, {"id": "b4", "c": "o", "f": 9.5, "a": 3.6}, {"id": "b4", "c": "o", "f": 10, "a": 3.0}, {"id": "b4", "c": "o", "f": 10.5, "a": 2.2}, {"id": "b4", "c": "o", "f": 11, "a": 1.8}, {"id": "b4", "c": "o", "f": 12, "a": 1.5}, {"id": "b4", "c": "o", "f": 13, "a": 1.3}, {"id": "b4", "c": "o", "f": 14, "a": 1.2}, {"id": "b4", "c": "o", "f": 16, "a": 1.0}, {"id": "b4", "c": "o", "f": 18, "a": 0.9}, {"id": "b4", "c": "o", "f": 20, "a": 0.8}, {"id": "b4", "c": "o", "f": 22, "a": 0.7}, {"id": "b4", "c": "o", "f": 24, "a": 0.6}, {"id": "b4", "c": "o", "f": 25, "a": 0.55},
      {"id": "b5", "c": "o", "f": 3, "a": 2.3}, {"id": "b5", "c": "o", "f": 4, "a": 2.2}, {"id": "b5", "c": "o", "f": 5, "a": 2.2}, {"id": "b5", "c": "o", "f": 6, "a": 2.6}, {"id": "b5", "c": "o", "f": 6.5, "a": 3.0}, {"id": "b5", "c": "o", "f": 7, "a": 2.6}, {"id": "b5", "c": "o", "f": 8, "a": 2.3}, {"id": "b5", "c": "o", "f": 9, "a": 2.2}, {"id": "b5", "c": "o", "f": 10, "a": 2.4}, {"id": "b5", "c": "o", "f": 11, "a": 2.3}, {"id": "b5", "c": "o", "f": 12, "a": 2.0}, {"id": "b5", "c": "o", "f": 13, "a": 1.7}, {"id": "b5", "c": "o", "f": 14, "a": 1.5}, {"id": "b5", "c": "o", "f": 15, "a": 1.4}, {"id": "b5", "c": "o", "f": 16, "a": 1.3}, {"id": "b5", "c": "o", "f": 18, "a": 1.15}, {"id": "b5", "c": "o", "f": 20, "a": 1.0}, {"id": "b5", "c": "o", "f": 22, "a": 0.85}, {"id": "b5", "c": "o", "f": 24, "a": 0.7}, {"id": "b5", "c": "o", "f": 25, "a": 0.65},
      {"id": "b6", "c": "o", "f": 3, "a": 1.8}, {"id": "b6", "c": "o", "f": 4, "a": 1.6}, {"id": "b6", "c": "o", "f": 5, "a": 1.4}, {"id": "b6", "c": "o", "f": 6, "a": 1.3}, {"id": "b6", "c": "o", "f": 7, "a": 1.2}, {"id": "b6", "c": "o", "f": 8, "a": 1.1}, {"id": "b6", "c": "o", "f": 9, "a": 1.1}, {"id": "b6", "c": "o", "f": 10, "a": 1.2}, {"id": "b6", "c": "o", "f": 11, "a": 1.1}, {"id": "b6", "c": "o", "f": 12, "a": 1.0}, {"id": "b6", "c": "o", "f": 14, "a": 0.9}, {"id": "b6", "c": "o", "f": 16, "a": 0.8}, {"id": "b6", "c": "o", "f": 18, "a": 0.75}, {"id": "b6", "c": "o", "f": 20, "a": 0.7}, {"id": "b6", "c": "o", "f": 22, "a": 0.6}, {"id": "b6", "c": "o", "f": 24, "a": 0.55}, {"id": "b6", "c": "o", "f": 25, "a": 0.5},
      {"id": "b7", "c": "o", "f": 3, "a": 2.1}, {"id": "b7", "c": "o", "f": 4, "a": 1.9}, {"id": "b7", "c": "o", "f": 5, "a": 1.7}, {"id": "b7", "c": "o", "f": 6, "a": 1.6}, {"id": "b7", "c": "o", "f": 7, "a": 1.5}, {"id": "b7", "c": "o", "f": 8, "a": 1.5}, {"id": "b7", "c": "o", "f": 9, "a": 1.6}, {"id": "b7", "c": "o", "f": 10, "a": 1.8}, {"id": "b7", "c": "o", "f": 11, "a": 1.6}, {"id": "b7", "c": "o", "f": 12, "a": 1.4}, {"id": "b7", "c": "o", "f": 13, "a": 1.2}, {"id": "b7", "c": "o", "f": 14, "a": 1.1}, {"id": "b7", "c": "o", "f": 16, "a": 1.0}, {"id": "b7", "c": "o", "f": 18, "a": 0.9}, {"id": "b7", "c": "o", "f": 20, "a": 0.85}, {"id": "b7", "c": "o", "f": 22, "a": 0.75}, {"id": "b7", "c": "o", "f": 24, "a": 0.65}, {"id": "b7", "c": "o", "f": 25, "a": 0.6},
      {"id": "b8", "c": "o", "f": 3, "a": 2.6}, {"id": "b8", "c": "o", "f": 4, "a": 2.4}, {"id": "b8", "c": "o", "f": 5, "a": 2.2}, {"id": "b8", "c": "o", "f": 6, "a": 2.0}, {"id": "b8", "c": "o", "f": 7, "a": 1.9}, {"id": "b8", "c": "o", "f": 8, "a": 2.0}, {"id": "b8", "c": "o", "f": 9, "a": 2.3}, {"id": "b8", "c": "o", "f": 9.5, "a": 2.7}, {"id": "b8", "c": "o", "f": 10, "a": 2.5}, {"id": "b8", "c": "o", "f": 11, "a": 2.1}, {"id": "b8", "c": "o", "f": 12, "a": 1.8}, {"id": "b8", "c": "o", "f": 13, "a": 1.6}, {"id": "b8", "c": "o", "f": 14, "a": 1.5}, {"id": "b8", "c": "o", "f": 15, "a": 1.4}, {"id": "b8", "c": "o", "f": 16, "a": 1.3}, {"id": "b8", "c": "o", "f": 18, "a": 1.2}, {"id": "b8", "c": "o", "f": 19, "a": 1.3}, {"id": "b8", "c": "o", "f": 20, "a": 1.1}, {"id": "b8", "c": "o", "f": 22, "a": 0.9}, {"id": "b8", "c": "o", "f": 24, "a": 0.75}, {"id": "b8", "c": "o", "f": 25, "a": 0.7},
      {"id": "b9", "c": "o", "f": 3, "a": 1.6}, {"id": "b9", "c": "o", "f": 4, "a": 1.5}, {"id": "b9", "c": "o", "f": 5, "a": 1.3}, {"id": "b9", "c": "o", "f": 6, "a": 1.2}, {"id": "b9", "c": "o", "f": 7, "a": 1.1}, {"id": "b9", "c": "o", "f": 8, "a": 1.0}, {"id": "b9", "c": "o", "f": 9, "a": 1.0}, {"id": "b9", "c": "o", "f": 10, "a": 1.0}, {"id": "b9", "c": "o", "f": 11, "a": 0.95}, {"id": "b9", "c": "o", "f": 12, "a": 0.9}, {"id": "b9", "c": "o", "f": 14, "a": 0.8}, {"id": "b9", "c": "o", "f": 16, "a": 0.75}, {"id": "b9", "c": "o", "f": 18, "a": 0.7}, {"id": "b9", "c": "o", "f": 20, "a": 0.65}, {"id": "b9", "c": "o", "f": 22, "a": 0.6}, {"id": "b9", "c": "o", "f": 24, "a": 0.5}, {"id": "b9", "c": "o", "f": 25, "a": 0.45},
      {"id": "b10", "c": "o", "f": 3, "a": 2.4}, {"id": "b10", "c": "o", "f": 4, "a": 2.1}, {"id": "b10", "c": "o", "f": 5, "a": 1.9}, {"id": "b10", "c": "o", "f": 6, "a": 1.8}, {"id": "b10", "c": "o", "f": 7, "a": 1.7}, {"id": "b10", "c": "o", "f": 8, "a": 1.7}, {"id": "b10", "c": "o", "f": 9, "a": 1.8}, {"id": "b10", "c": "o", "f": 10, "a": 2.0}, {"id": "b10", "c": "o", "f": 10.5, "a": 2.3}, {"id": "b10", "c": "o", "f": 11, "a": 2.2}, {"id": "b10", "c": "o", "f": 12, "a": 1.9}, {"id": "b10", "c": "o", "f": 13, "a": 1.7}, {"id": "b10", "c": "o", "f": 14, "a": 1.5}, {"id": "b10", "c": "o", "f": 16, "a": 1.3}, {"id": "b10", "c": "o", "f": 17, "a": 1.4}, {"id": "b10", "c": "o", "f": 18, "a": 1.3}, {"id": "b10", "c": "o", "f": 20, "a": 1.1}, {"id": "b10", "c": "o", "f": 22, "a": 0.9}, {"id": "b10", "c": "o", "f": 24, "a": 0.75}, {"id": "b10", "c": "o", "f": 25, "a": 0.7},
      {"id": "b11", "c": "o", "f": 3, "a": 2.0}, {"id": "b11", "c": "o", "f": 4, "a": 1.7}, {"id": "b11", "c": "o", "f": 5, "a": 1.5}, {"id": "b11", "c": "o", "f": 6, "a": 1.4}, {"id": "b11", "c": "o", "f": 7, "a": 1.3}, {"id": "b11", "c": "o", "f": 8, "a": 1.3}, {"id": "b11", "c": "o", "f": 9, "a": 1.4}, {"id": "b11", "c": "o", "f": 10, "a": 1.5}, {"id": "b11", "c": "o", "f": 11, "a": 1.4}, {"id": "b11", "c": "o", "f": 12, "a": 1.3}, {"id": "b11", "c": "o", "f": 13, "a": 1.2}, {"id": "b11", "c": "o", "f": 14, "a": 1.1}, {"id": "b11", "c": "o", "f": 16, "a": 1.0}, {"id": "b11", "c": "o", "f": 18, "a": 0.95}, {"id": "b11", "c": "o", "f": 20, "a": 0.9}, {"id": "b11", "c": "o", "f": 22, "a": 0.8}, {"id": "b11", "c": "o", "f": 24, "a": 0.7}, {"id": "b11", "c": "o", "f": 25, "a": 0.65},
      {"id": "b12", "c": "o", "f": 3, "a": 2.7}, {"id": "b12", "c": "o", "f": 4, "a": 2.5}, {"id": "b12", "c": "o", "f": 5, "a": 2.4}, {"id": "b12", "c": "o", "f": 6, "a": 2.3}, {"id": "b12", "c": "o", "f": 7, "a": 2.4}, {"id": "b12", "c": "o", "f": 8, "a": 2.6}, {"id": "b12", "c": "o", "f": 9, "a": 2.9}, {"id": "b12", "c": "o", "f": 9.8, "a": 3.2}, {"id": "b12", "c": "o", "f": 10.5, "a": 2.9}, {"id": "b12", "c": "o", "f": 11, "a": 2.6}, {"id": "b12", "c": "o", "f": 12, "a": 2.3}, {"id": "b12", "c": "o", "f": 13, "a": 2.0}, {"id": "b12", "c": "o", "f": 14, "a": 1.8}, {"id": "b12", "c": "o", "f": 15, "a": 1.8}, {"id": "b12", "c": "o", "f": 16, "a": 1.9}, {"id": "b12", "c": "o", "f": 17, "a": 1.7}, {"id": "b12", "c": "o", "f": 18, "a": 1.6}, {"id": "b12", "c": "o", "f": 19, "a": 1.5}, {"id": "b12", "c": "o", "f": 20, "a": 1.3}, {"id": "b12", "c": "o", "f": 22, "a": 1.0}, {"id": "b12", "c": "o", "f": 24, "a": 0.8}, {"id": "b12", "c": "o", "f": 25, "a": 0.75},
      {"id": "b13", "c": "o", "f": 3, "a": 1.9}, {"id": "b13", "c": "o", "f": 4, "a": 1.8}, {"id": "b13", "c": "o", "f": 5, "a": 1.7}, {"id": "b13", "c": "o", "f": 6, "a": 1.6}, {"id": "b13", "c": "o", "f": 7, "a": 1.5}, {"id": "b13", "c": "o", "f": 8, "a": 1.5}, {"id": "b13", "c": "o", "f": 9, "a": 1.6}, {"id": "b13", "c": "o", "f": 10, "a": 1.7}, {"id": "b13", "c": "o", "f": 11, "a": 1.7}, {"id": "b13", "c": "o", "f": 12, "a": 1.5}, {"id": "b13", "c": "o", "f": 13, "a": 1.3}, {"id": "b13", "c": "o", "f": 14, "a": 1.2}, {"id": "b13", "c": "o", "f": 16, "a": 1.1}, {"id": "b13", "c": "o", "f": 18, "a": 1.0}, {"id": "b13", "c": "o", "f": 20, "a": 0.9}, {"id": "b13", "c": "o", "f": 22, "a": 0.8}, {"id": "b13", "c": "o", "f": 24, "a": 0.7}, {"id": "b13", "c": "o", "f": 25, "a": 0.65},
      {"id": "b14", "c": "o", "f": 3, "a": 2.2}, {"id": "b14", "c": "o", "f": 4, "a": 2.0}, {"id": "b14", "c": "o", "f": 5, "a": 1.8}, {"id": "b14", "c": "o", "f": 6, "a": 1.7}, {"id": "b14", "c": "o", "f": 7, "a": 1.6}, {"id": "b14", "c": "o", "f": 8, "a": 1.8}, {"id": "b14", "c": "o", "f": 9, "a": 2.0}, {"id": "b14", "c": "o", "f": 10, "a": 2.2}, {"id": "b14", "c": "o", "f": 10.5, "a": 2.6}, {"id": "b14", "c": "o", "f": 11, "a": 2.4}, {"id": "b14", "c": "o", "f": 12, "a": 2.0}, {"id": "b14", "c": "o", "f": 13, "a": 1.7}, {"id": "b14", "c": "o", "f": 14, "a": 1.5}, {"id": "b14", "c": "o", "f": 16, "a": 1.3}, {"id": "b14", "c": "o", "f": 18, "a": 1.1}, {"id": "b14", "c": "o", "f": 20, "a": 1.0}, {"id": "b14", "c": "o", "f": 22, "a": 0.85}, {"id": "b14", "c": "o", "f": 24, "a": 0.7}, {"id": "b14", "c": "o", "f": 25, "a": 0.65}
    ],
    "alphas": [{"f": 8.02}, {"f": 8.82}, {"f": 9.52}, {"f": 9.68}, {"f": 9.76}, {"f": 9.83}, {"f": 10.05}, {"f": 10.1}, {"f": 10.52}, {"f": 11.13}, {"f": 11.5}]
  },
  "hconcat": [
    {
      "width": 503,
      "height": 276,
      "title": {"text": "A", "dx": -107, "offset": 23},
      "view": {"stroke": "#000", "strokeWidth": 1.2},
      "layer": [
        {
          "data": {"name": "meanA"},
          "mark": {"type": "line", "strokeWidth": 2.5},
          "encoding": {
            "x": {"field": "f", "type": "quantitative", "scale": {"domain": [-7, 15], "nice": false, "zero": false},
              "axis": {"orient": "bottom", "values": [-6, -4, -2, 0, 2, 4, 6, 8, 10, 12, 14], "labelExpr": "datum.value == 0 ? ['vis.', 'alpha'] : datum.label", "labelLineHeight": 25, "tickSize": -5, "labelPadding": 12, "title": "Frequenz in Hz", "titlePadding": 13}},
            "y": {"field": "a", "type": "quantitative", "scale": {"domain": [0, 8], "nice": false},
              "axis": {"orient": "left", "values": [0, 1, 2, 3, 4, 5, 6, 7, 8], "tickSize": -5, "labelPadding": 9, "title": "Amplitude in µV", "titlePadding": 22}},
            "color": {"field": "cond", "type": "nominal", "scale": {"domain": ["Augen geschlossen", "Augen offen"], "range": ["#e5322d", "#2e3b8f"]},
              "legend": {"orient": "none", "legendX": 350, "legendY": 347, "direction": "horizontal", "title": null, "symbolType": "stroke", "symbolSize": 1100, "symbolStrokeWidth": 2.5, "labelFontSize": 20, "labelColor": "#000", "labelOffset": 3, "columnPadding": 30, "labelLimit": 0}}
          }
        },
        {
          "data": {"values": [{"f": 0}]},
          "mark": {"type": "rule", "color": "#000", "strokeWidth": 1.5},
          "encoding": {
            "x": {"field": "f", "type": "quantitative", "axis": {"orient": "top", "values": [-6, -4, -2, 0, 2, 4, 6, 8, 10, 12, 14], "tickSize": -5, "labels": false, "domain": false, "title": null}},
            "y": {"datum": 0, "axis": {"orient": "right", "values": [0, 1, 2, 3, 4, 5, 6, 7, 8], "tickSize": -5, "labels": false, "domain": false, "title": null}},
            "y2": {"datum": 8}
          }
        }
      ],
      "resolve": {"axis": {"x": "independent", "y": "independent"}}
    },
    {
      "width": 498,
      "height": 277,
      "title": {"text": "B", "dx": -73, "offset": 2},
      "view": {"stroke": "#a0a0a0", "strokeWidth": 1.2},
      "layer": [
        {
          "data": {"values": [{"from": 8, "to": 14}]},
          "mark": {"type": "rect", "color": "#eeeeee"},
          "encoding": {
            "x": {"field": "from", "type": "quantitative", "scale": {"domain": [3, 25], "nice": false, "zero": false},
              "axis": {"orient": "bottom", "values": [4, 6, 8, 10, 12, 14, 16, 18, 20, 22, 24], "tickSize": 4, "labelPadding": 2, "title": "Frequenz in Hz", "titlePadding": 36}},
            "x2": {"field": "to"},
            "y": {"datum": 0, "scale": {"domain": [0, 18], "nice": false},
              "axis": {"orient": "left", "values": [0, 2, 4, 6, 8, 10, 12, 14, 16, 18], "tickSize": 6, "labelPadding": 3, "title": "Amplitude in µV", "titlePadding": 22}},
            "y2": {"datum": 18}
          }
        },
        {
          "data": {"name": "alphas"},
          "mark": {"type": "rule", "color": "#7a7a7a", "strokeWidth": 1.2, "strokeDash": [2, 4]},
          "encoding": {
            "x": {"field": "f", "type": "quantitative", "axis": null},
            "y": {"datum": 0, "axis": null},
            "y2": {"datum": 18.4}
          }
        },
        {
          "data": {"name": "indiv"},
          "mark": {"type": "line", "strokeWidth": 1.1, "opacity": 0.85},
          "encoding": {
            "x": {"field": "f", "type": "quantitative", "axis": {"orient": "top", "ticks": false, "labels": false, "domainColor": "#333", "domainWidth": 1.8, "title": null}},
            "y": {"field": "a", "type": "quantitative", "axis": null},
            "stroke": {"field": "c", "type": "nominal", "scale": {"domain": ["g", "o"], "range": ["#d7898a", "#8990c8"]}, "legend": null},
            "detail": {"field": "id"}
          }
        },
        {
          "data": {"name": "meanB"},
          "mark": {"type": "line", "strokeWidth": 3},
          "encoding": {
            "x": {"field": "f", "type": "quantitative", "axis": null},
            "y": {"field": "a", "type": "quantitative", "axis": null},
            "color": {"field": "cond", "type": "nominal"}
          }
        },
        {
          "data": {"values": [{"f": 10}]},
          "mark": {"type": "rule", "color": "#222", "strokeWidth": 1.5},
          "encoding": {
            "x": {"field": "f", "type": "quantitative", "axis": null},
            "y": {"datum": 0, "axis": null},
            "y2": {"datum": 18}
          }
        },
        {
          "data": {"values": [{"label": "visuelle alpha Frequenzen"}]},
          "mark": {"type": "text", "fontSize": 20, "baseline": "alphabetic", "dy": -14, "color": "#000"},
          "encoding": {
            "x": {"datum": 10, "axis": null},
            "y": {"datum": 18, "axis": null},
            "text": {"field": "label"}
          }
        }
      ],
      "resolve": {"axis": {"x": "independent", "y": "independent"}}
    }
  ]
}
